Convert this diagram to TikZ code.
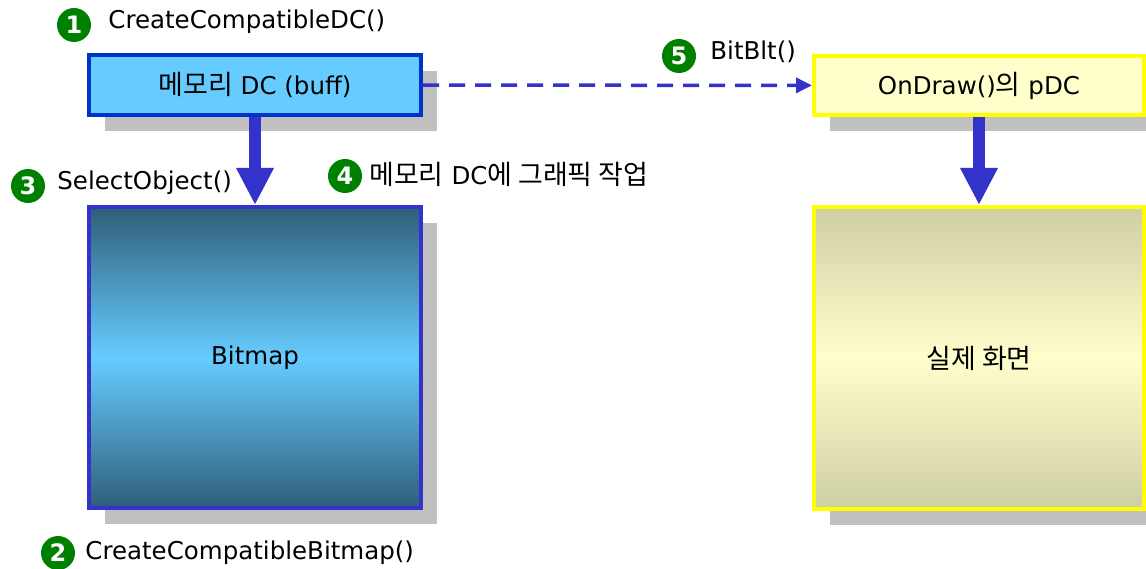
\documentclass[tikz,border=0pt]{standalone}
\usepackage{fontspec}
\setmainfont{DejaVu Sans}
\newfontfamily\kr[Scale=1.1]{Noto Sans CJK KR}
\usetikzlibrary{positioning,arrows.meta,shadows}
\definecolor{numgreen}{RGB}{0,128,0}
\definecolor{buffblue}{RGB}{102,204,255}
\definecolor{buffline}{RGB}{0,51,204}
\definecolor{arrowblue}{RGB}{51,51,204}
\definecolor{bmdark}{RGB}{47,94,120}
\definecolor{pdcfill}{RGB}{255,255,204}
\definecolor{pdcline}{RGB}{255,255,0}
\definecolor{scrdark}{RGB}{206,206,164}
\definecolor{shadowgray}{RGB}{192,192,192}

\begin{document}
\begin{tikzpicture}[x=1pt,y=-1pt,font=\fontsize{24.5}{29}\selectfont,
    num node/.style={circle,fill=numgreen,text=white,inner sep=0pt,minimum size=34pt,font=\bfseries\fontsize{24}{24}\selectfont},
    lbl node/.style={inner sep=0pt},
    box node/.style={rectangle,line width=4pt,minimum width=332pt,drop shadow={shadow xshift=16pt,shadow yshift=-16pt,fill=shadowgray,opacity=1}},
    fat arrow/.style={draw=arrowblue,line width=12pt,-{Triangle[length=37pt,width=35pt]}},
    thin arrow/.style={draw=arrowblue,line width=3.5pt,dash pattern=on 16pt off 10pt,-{Triangle[length=16pt,width=15pt]}}]
    \useasboundingbox (0,0) rectangle (1146,569);

    \node[box node,draw=buffline,fill=buffblue,minimum height=60pt] (buff) at (255,85) {{\kr 메모리} DC (buff)};
    \node[box node,draw=arrowblue,shade,top color=bmdark,bottom color=bmdark,middle color=buffblue,minimum height=301pt] (bitmap) at (255,357.5) {Bitmap};
    \node[box node,draw=pdcline,fill=pdcfill,minimum width=330pt,minimum height=59pt] (pdc) at (979,85.5) {OnDraw(){\kr 의} pDC};
    \node[box node,draw=pdcline,shade,top color=scrdark,bottom color=scrdark,middle color=pdcfill,minimum width=330pt,minimum height=302pt] (screen) at (979,358) {\kr 실제 화면};

    \node[num node] (n1) at (74,25) {1};
    \node[num node] (n2) at (58,553) {2};
    \node[num node] (n3) at (28,186) {3};
    \node[num node] (n4) at (345,176) {4};
    \node[num node] (n5) at (679,56) {5};
    \node[lbl node] (l1) [right=17pt of n1,yshift=3pt] {CreateCompatibleDC()};
    \node[lbl node] (l2) [right=10pt of n2] {CreateCompatibleBitmap()};
    \node[lbl node] (l3) [right=12pt of n3,yshift=3pt] {SelectObject()};
    \node[lbl node] (l4) [right=7pt of n4,yshift=2pt] {{\kr 메모리} DC{\kr 에 그래픽 작업}};
    \node[lbl node] (l5) [right=14pt of n5,yshift=4pt] {BitBlt()};

    \path
        (buff) edge[fat arrow] (bitmap)
        (pdc) edge[fat arrow] (screen)
        (buff) edge[thin arrow] (pdc)
    ;
\end{tikzpicture}
\end{document}
